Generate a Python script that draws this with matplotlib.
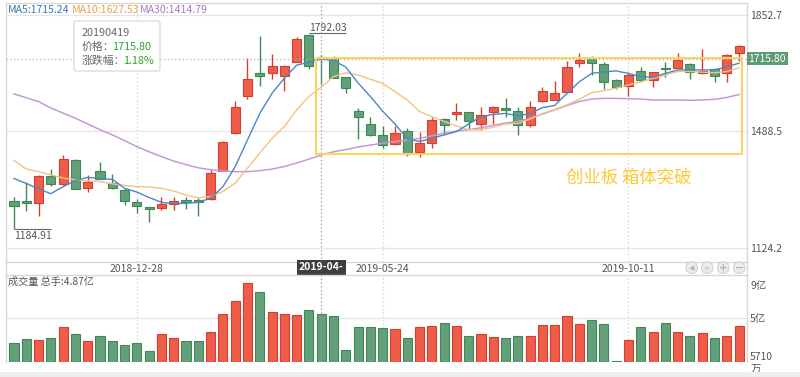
import matplotlib
matplotlib.use('Agg')
import matplotlib.pyplot as plt
import numpy as np
from matplotlib.patches import Rectangle, Circle, FancyBboxPatch
from matplotlib.transforms import ScaledTranslation, blended_transform_factory

plt.rcParams['font.family'] = ['Noto Sans CJK SC', 'DejaVu Sans']

# ---------------- data (weekly candles) ----------------
opens = [1272, 1272, 1264, 1348, 1325, 1400, 1311, 1366, 1329, 1306,
         1269, 1251, 1249, 1262, 1275, 1275, 1277, 1366, 1485, 1598,
         1672, 1672, 1662, 1707, 1790, 1722, 1717, 1658, 1553, 1512,
         1479, 1449, 1490, 1424, 1454, 1527, 1542, 1549, 1512, 1548,
         1561, 1553, 1509, 1585, 1587, 1613, 1702, 1717, 1700, 1650,
         1631, 1679, 1650, 1688, 1688, 1700, 1670, 1683, 1670, 1735]
highs = [1283, 1331, 1352, 1371, 1416, 1402, 1352, 1393, 1356, 1311,
         1277, 1252, 1285, 1285, 1285, 1280, 1369, 1458, 1584, 1719,
         1788, 1731, 1695, 1785, 1792.03, 1729, 1725, 1660, 1563, 1535,
         1506, 1506, 1498, 1488, 1533, 1530, 1579, 1550, 1564, 1568,
         1593, 1566, 1585, 1629, 1647, 1710, 1735, 1723, 1707, 1652,
         1676, 1691, 1676, 1707, 1733, 1704, 1746, 1686, 1730, 1758]
lows = [1184.91, 1241, 1223, 1319, 1322, 1308, 1298, 1339, 1309, 1259,
        1235, 1204, 1244, 1242, 1245, 1223, 1275, 1365, 1481, 1591,
        1631, 1652, 1616, 1705, 1683, 1637, 1655, 1608, 1464, 1473,
        1438, 1447, 1412, 1410, 1438, 1478, 1525, 1496, 1493, 1512,
        1535, 1478, 1504, 1582, 1586, 1610, 1691, 1665, 1622, 1622,
        1600, 1642, 1629, 1660, 1686, 1653, 1668, 1644, 1644, 1709]
closes = [1254, 1266, 1350, 1325, 1404, 1310, 1331, 1341, 1311, 1272,
          1254, 1246, 1262, 1271, 1267, 1268, 1360, 1457, 1566, 1654,
          1662, 1693, 1694, 1777, 1694, 1715.80, 1657, 1624, 1533, 1478,
          1447, 1483, 1417.5, 1454, 1525, 1510, 1549, 1520, 1540, 1564,
          1555, 1509, 1566, 1615, 1610, 1691, 1712, 1702, 1644, 1629,
          1665, 1650, 1674, 1684, 1712, 1674, 1679, 1663, 1728, 1756]
# volume in 亿
volumes = [2.40, 2.81, 2.74, 2.97, 4.04, 3.31, 2.67, 3.17, 2.64, 2.23,
           2.46, 1.60, 3.37, 2.97, 2.67, 2.67, 3.51, 5.32, 6.69, 8.51,
           7.60, 5.56, 5.32, 5.25, 5.76, 5.32, 5.12, 1.73, 4.08, 4.04,
           3.94, 3.84, 2.91, 4.01, 4.15, 4.42, 4.15, 3.11, 3.31, 3.04,
           2.97, 3.11, 3.11, 4.22, 4.28, 5.15, 4.35, 4.72, 4.35, 0.60,
           2.74, 4.08, 3.57, 4.42, 3.57, 3.17, 3.44, 2.97, 3.17, 4.15]
ma5 = [1341.5, 1326, 1309, 1294, 1316, 1335, 1345, 1341, 1339, 1311,
       1299, 1282, 1267, 1263, 1264, 1267, 1280, 1316, 1379, 1462,
       1545, 1608, 1655, 1696, 1705, 1715.24, 1710, 1690, 1640, 1598,
       1552, 1512, 1466, 1457, 1467, 1478, 1488, 1512, 1535, 1542,
       1545, 1537, 1545, 1563, 1570, 1608, 1644, 1670, 1675, 1678,
       1670, 1660, 1658, 1670, 1681, 1681, 1681, 1681, 1691, 1702]
ma10 = [1398, 1371, 1363, 1353, 1343, 1337, 1334, 1332, 1325, 1320,
        1316, 1315, 1311, 1302, 1290, 1281, 1285, 1301, 1327, 1374,
        1421, 1467, 1504, 1556, 1598, 1627.53, 1660, 1672, 1665, 1652,
        1639, 1613, 1587, 1551, 1535, 1520, 1506, 1494, 1494, 1502,
        1512, 1514, 1527, 1545, 1557, 1572, 1589, 1610, 1616, 1624,
        1634, 1644, 1655, 1665, 1676, 1676, 1674, 1672, 1676, 1688]
ma30 = [1606, 1594, 1582, 1562, 1546, 1530, 1512, 1494, 1478, 1460,
        1441, 1425, 1410, 1396, 1385, 1375, 1369, 1365, 1363, 1363,
        1366, 1371, 1379, 1390, 1402, 1414.79, 1425, 1432, 1440, 1446,
        1452, 1457, 1462, 1467, 1475, 1483, 1490, 1494, 1500, 1508,
        1515, 1520, 1530, 1543, 1556, 1570, 1582, 1590, 1592, 1592,
        1591, 1590, 1587, 1587, 1587, 1586, 1587, 1589, 1595, 1604]

tick_idx = [10, 30, 50]
tick_labels = ['2018-12-28', '2019-05-24', '2019-10-11']
price_ticks = [1124.2, 1488.5, 1852.7]
vol_ticks = [0.571, 5, 9]
vol_tick_labels = ['5710\n万', '5亿', '9亿']
cross_idx = 25
cross_date = '20190419'
cross_date_short = '2019-04-'
cross_price = 1715.80
cross_chg = '1.18%'
cross_vol = '4.87亿'
box_x = [24.57, 59.24]
box_y = [1417.6, 1719.3]
note = '创业板 箱体突破'

# ---------------- styling ----------------
RED_F, RED_E = '#EE5D4A', '#D23E30'
GRN_F, GRN_E = '#63A07A', '#3E8858'
C_MA5, C_MA10, C_MA30 = '#4A88C6', '#F4C283', '#C29BD6'
T_MA5, T_MA10, T_MA30 = '#3E78B2', '#EBA24F', '#A57BC2'
SPINE = '#d8d8d8'
GRID = '#e6e6e6'
TXT = '#555555'

o = np.array(opens, float); h = np.array(highs, float)
l = np.array(lows, float); c = np.array(closes, float)
v = np.array(volumes, float)
n = len(o)
idx = np.arange(n)
up = c >= o
fill = np.where(up, RED_F, GRN_F)
edge = np.where(up, RED_E, GRN_E)

fig = plt.figure(figsize=(8, 3.77), dpi=100)
fig.patch.set_facecolor('white')

W, H = 800.0, 377.0
L_PX, R_PX = 6.0, 746.7
ax = fig.add_axes([L_PX / W, 1 - 261.7 / H, (R_PX - L_PX) / W, (261.7 - 3.3) / H])
axv = fig.add_axes([L_PX / W, 1 - 361.5 / H, (R_PX - L_PX) / W, (361.5 - 275.0) / H])

XLIM = (-0.65, 59.62)
for a in (ax, axv):
    a.set_xlim(*XLIM)
    for s in a.spines.values():
        s.set_color(SPINE)
        s.set_linewidth(1)
    a.set_xticks(tick_idx)
    a.xaxis.grid(True, ls=(0, (1, 2)), color='#d0d0d0', lw=0.9)
    a.set_axisbelow(True)

# ---- main panel ----
ax.set_ylim(1081.4, 1889.3)
ax.yaxis.tick_right()
ax.set_yticks(price_ticks)
ax.set_yticklabels([f'{t:.1f}' for t in price_ticks])
ax.tick_params(axis='y', length=0, pad=2.5, labelsize=7.5, labelcolor=TXT)
ax.yaxis.grid(True, color=GRID, lw=1)
ax.set_xticklabels(tick_labels)
ax.tick_params(axis='x', length=0, pad=1.8, labelsize=7.5, labelcolor=TXT)

ax.vlines(idx, l, h, colors=edge, lw=1, zorder=2)
bottoms = np.minimum(o, c)
heights = np.maximum(np.abs(c - o), 3.0)
ax.bar(idx, heights, bottom=bottoms, width=0.74, color=fill, edgecolor=edge,
       linewidth=0.8, zorder=3)

ax.plot(idx, ma30, color=C_MA30, lw=1.1, zorder=4)
ax.plot(idx, ma10, color=C_MA10, lw=1.0, zorder=4)
ax.plot(idx, ma5, color=C_MA5, lw=1.0, zorder=5)

# crosshair
ax.axvline(cross_idx, ls=(0, (1, 2)), color='#9a9a9a', lw=0.9, zorder=6)
ax.axhline(cross_price, ls=(0, (1, 2)), color='#b0b0b0', lw=0.9, zorder=6)

# min / max annotations
i_min = int(np.argmin(l)); i_max = int(np.argmax(h))
ax.hlines(l[i_min], i_min, i_min + 3.0, color='#666666', lw=0.8, zorder=6)
ax.annotate(f'{l[i_min]:.2f}', (i_min, l[i_min]), xytext=(0, -1.5),
            textcoords='offset points', ha='left', va='top', fontsize=7.5, color=TXT)
ax.hlines(h[i_max] + 3, i_max, i_max + 3.0, color='#666666', lw=0.8, zorder=6)
ax.annotate(f'{h[i_max]:.2f}', (i_max, h[i_max] + 3), xytext=(0, 0.5),
            textcoords='offset points', ha='left', va='bottom', fontsize=7.5, color=TXT)

# box + note
ax.add_patch(Rectangle((box_x[0], box_y[0]), box_x[1] - box_x[0], box_y[1] - box_y[0],
                       fill=False, ec='#FFD35A', lw=1.5, joinstyle='round', zorder=7))
ax.text(50.0, 1345, note, ha='center', va='center', fontsize=12.5, color='#FFC832', zorder=7)

# date label of crosshair
trx = blended_transform_factory(ax.transData, ax.transAxes)
ax.text(cross_idx, -0.003, cross_date_short, transform=trx, ha='center', va='top',
        fontsize=7.5, color='white', fontweight='bold', zorder=9,
        bbox=dict(boxstyle='square,pad=0.22', fc='#3f3f3f', ec='none'))
# price label of crosshair
try_ = blended_transform_factory(ax.transAxes, ax.transData)
ax.text(1.0025, cross_price, f'{cross_price:.2f}', transform=try_, ha='left', va='center',
        fontsize=7.5, color='white', zorder=9, clip_on=False,
        bbox=dict(boxstyle='square,pad=0.15', fc='#5E9D73', ec='none'))

# ---- volume panel ----
VMIN = vol_ticks[0]
axv.set_ylim(VMIN, 9.28)
axv.bar(idx, v - VMIN, bottom=VMIN, width=0.74, color=fill, edgecolor=edge, linewidth=0.8, zorder=3)
axv.axhline(5, color=GRID, lw=1, zorder=1)
axv.yaxis.tick_right()
axv.set_yticks(vol_ticks)
axv.set_yticklabels(vol_tick_labels, linespacing=1.25)
axv.tick_params(axis='y', length=0, pad=2.5, labelsize=7.5, labelcolor=TXT)
axv.set_xticklabels([])
axv.tick_params(axis='x', length=0)
for lab in axv.get_yticklabels():
    if lab.get_text() == '9亿':
        lab.set_transform(lab.get_transform() + ScaledTranslation(0, -7 / 100, fig.dpi_scale_trans))
axv.axvline(cross_idx, ls=(0, (1, 2)), color='#9a9a9a', lw=0.9, zorder=6)
axv.spines['bottom'].set_visible(False)

# ---- overlay (pixel coordinates) ----
ov = fig.add_axes([0, 0, 1, 1], zorder=10)
ov.set_xlim(0, W); ov.set_ylim(H, 0); ov.axis('off')
ov.patch.set_alpha(0)

# bottom band
ov.add_patch(Rectangle((0, 371.7), W, 6, fc='#eceef0', ec='none'))
# right border through date strip
ov.plot([R_PX, R_PX], [261.7, 275], color=SPINE, lw=1)
ov.plot([L_PX, L_PX], [261.7, 275], color=SPINE, lw=1)

# MA legend
ov.text(8, 10, 'MA5:1715.24', color=T_MA5, fontsize=7.6, va='center')
ov.text(72, 10, 'MA10:1627.53', color=T_MA10, fontsize=7.6, va='center')
ov.text(140, 10, 'MA30:1414.79', color=T_MA30, fontsize=7.6, va='center')

# tooltip
ov.add_patch(FancyBboxPatch((74, 21), 86, 50, boxstyle='round,pad=0,rounding_size=2',
                            fc='white', ec='#d9d9d9', lw=0.9))
ov.text(81.5, 32.5, cross_date, color='#666666', fontsize=7.8, va='center')
ov.text(81.5, 46.5, '价格：', color='#666666', fontsize=7.8, va='center')
ov.text(112.3, 46.5, f'{cross_price:.2f}', color='#2FA22F', fontsize=7.8, va='center')
ov.text(81.5, 60.5, '涨跌幅：', color='#666666', fontsize=7.8, va='center')
ov.text(123.3, 60.5, cross_chg, color='#2FA22F', fontsize=7.8, va='center')

# volume title
ov.text(8, 282, f'成交量 总手:{cross_vol}', color=TXT, fontsize=7.3, va='center')

# navigation buttons
for cx, sym, col in [(691.7, '◀', '#b5b5b5'), (707.3, '▶', '#d5d5d5'),
                     (723.3, '+', '#b5b5b5'), (739.3, '−', '#b5b5b5')]:
    ov.add_patch(Circle((cx, 267.7), 5.8, fc='#ececec', ec='#d2d2d2', lw=0.8))
    ov.text(cx, 267.9, sym, ha='center', va='center', fontsize=5 if sym in '◀▶' else 7.5,
            color=col, family=['DejaVu Sans'], fontweight='bold')

fig.savefig('out.png', dpi=100, facecolor='white')
